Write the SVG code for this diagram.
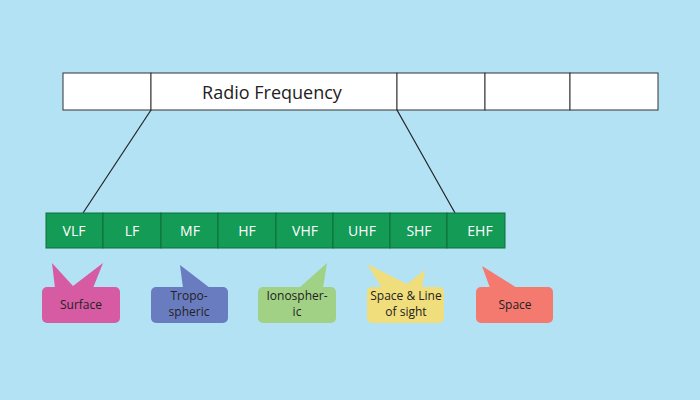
<svg xmlns="http://www.w3.org/2000/svg" width="700" height="400" viewBox="0 0 700 400">
<style>
.cell{fill:#ffffff;stroke:#333333;stroke-width:1}
.g{fill:#149b56;stroke:#0e6e3c;stroke-width:1}
.gt{font-family:"Open Sans","Liberation Sans",sans-serif;font-size:14px;fill:#ffffff;text-anchor:middle}
.ct{font-family:"Open Sans","Liberation Sans",sans-serif;font-size:12px;fill:#222222;text-anchor:middle}
.conn{stroke:#222222;stroke-width:1.2;fill:none}
</style>
<rect width="700" height="400" fill="#b3e2f5"/>
<g id="radio-bar">
<rect class="cell" x="63" y="73" width="88" height="37"/>
<rect class="cell" x="151" y="73" width="246" height="37"/>
<rect class="cell" x="397" y="73" width="88" height="37"/>
<rect class="cell" x="485" y="73" width="85" height="37"/>
<rect class="cell" x="570" y="73" width="88" height="37"/>
<text x="272" y="99" font-family="'Open Sans','Liberation Sans',sans-serif" font-size="18" fill="#222222" text-anchor="middle">Radio Frequency</text>
</g>
<g id="connectors">
<line class="conn" x1="151" y1="110" x2="83" y2="213"/>
<line class="conn" x1="397" y1="110" x2="455" y2="213"/>
</g>
<g id="band-bar">
<rect class="g" x="46" y="213" width="57" height="35"/>
<rect class="g" x="103" y="213" width="58" height="35"/>
<rect class="g" x="161" y="213" width="57" height="35"/>
<rect class="g" x="218" y="213" width="58" height="35"/>
<rect class="g" x="276" y="213" width="57" height="35"/>
<rect class="g" x="333" y="213" width="57" height="35"/>
<rect class="g" x="390" y="213" width="57" height="35"/>
<rect class="g" x="447" y="213" width="58" height="35"/>
<text class="gt" x="74" y="236">VLF</text>
<text class="gt" x="132" y="236">LF</text>
<text class="gt" x="190" y="236">MF</text>
<text class="gt" x="247" y="236">HF</text>
<text class="gt" x="305" y="236">VHF</text>
<text class="gt" x="362" y="236">UHF</text>
<text class="gt" x="419" y="236">SHF</text>
<text class="gt" x="480" y="236">EHF</text>
</g>
<g id="surface">
<polygon points="55,288 52,263 73,286 103,263 93,288" fill="#d65ba3"/>
<rect x="42" y="287" width="78" height="36" rx="5" fill="#d65ba3"/>
<text class="ct" x="81" y="309">Surface</text>
</g>
<g id="tropospheric">
<polygon points="183,288 180,265 210,288" fill="#6a7cc0"/>
<rect x="151" y="287" width="77" height="36" rx="5" fill="#6a7cc0"/>
<text class="ct" x="189" y="300">Tropo-</text>
<text class="ct" x="189" y="316">spheric</text>
</g>
<g id="ionospheric">
<polygon points="299,288 327,263 323,288" fill="#a1d184"/>
<rect x="258" y="287" width="78" height="36" rx="5" fill="#a1d184"/>
<text class="ct" x="297" y="300">Ionospher-</text>
<text class="ct" x="297" y="316">ic</text>
</g>
<g id="space-line">
<polygon points="382,288 367,264 407,284 425,270 422,288" fill="#f0dd7c"/>
<rect x="367" y="287" width="77" height="36" rx="5" fill="#f0dd7c"/>
<text class="ct" x="406" y="300">Space &amp; Line</text>
<text class="ct" x="406" y="316">of sight</text>
</g>
<g id="space">
<polygon points="490,288 482,266 517,288" fill="#f47a70"/>
<rect x="476" y="287" width="77" height="36" rx="5" fill="#f47a70"/>
<text class="ct" x="515" y="309">Space</text>
</g>
</svg>
